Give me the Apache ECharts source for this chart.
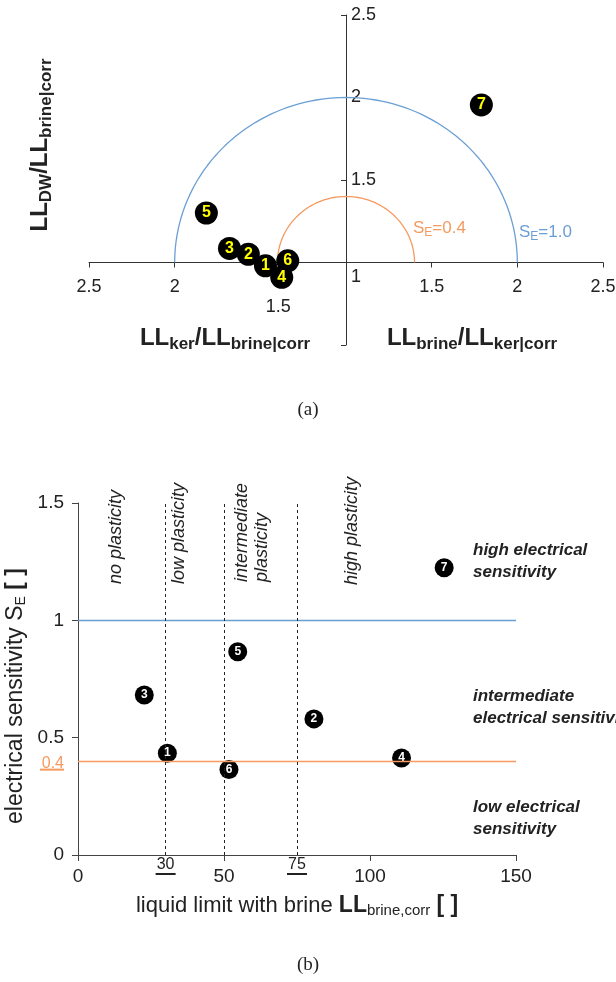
<!DOCTYPE html>
<html>
<head>
<meta charset="utf-8">
<script src="https://cdn.jsdelivr.net/npm/echarts@6/dist/echarts.min.js"></script>
<style>
  html, body { margin: 0; padding: 0; background: #fff; }
  #main { width: 616px; height: 982px; }
</style>
</head>
<body>
<div id="main"></div>
<script>
  // sample numbers
  const samples = ['1', '2', '3', '4', '5', '6', '7'];
  // (a) horizontal: distance from ratio 1 (left = LL_ker/LL_brine, right = LL_brine/LL_ker)
  const ratioX = [-0.47, -0.57, -0.68, -0.375, -0.815, -0.34, 0.79];
  // (a) vertical: LL_DW/LL_brine minus 1
  const ratioY = [-0.02, 0.05, 0.085, -0.09, 0.3, 0.01, 0.955];
  // (b) liquid limit with brine and electrical sensitivity
  const llBrine = [30.6, 80.8, 22.7, 110.8, 54.7, 51.7, 125.4];
  const sensitivity = [0.434, 0.58, 0.682, 0.413, 0.866, 0.364, 1.224];
  // plasticity borders and S_E levels
  const plasticityBorders = [30, 50, 75];
  const seLevels = [0.4, 1.0];

  const BLUE = '#6a9fd4';
  const ORANGE = '#f59a60';
  const INK = '#222';

  // half circle of constant S_E (the boundary itself, not data)
  function halfCircle(r) {
    const pts = [];
    for (let a = 0; a <= 180; a += 2) {
      const t = a * Math.PI / 180;
      pts.push([r * Math.cos(t), r * Math.sin(t)]);
    }
    return pts;
  }

  const nameRich = {
    m: { fontSize: 24, fontWeight: 'bold', fill: INK },
    s: { fontSize: 17, fontWeight: 'bold', fill: INK, padding: [12, 0, 0, 0] }
  };
  const underRich = {
    t: { fontSize: 16, color: INK, lineHeight: 17 },
    u: { width: 20, height: 2, backgroundColor: INK }
  };

  function gText(x, y, text, extra) {
    return Object.assign({
      type: 'text', x: x, y: y, silent: true,
      style: Object.assign({
        text: text, fill: INK, fontSize: 18,
        fontFamily: 'Liberation Sans',
        align: 'left', verticalAlign: 'middle',
        textAlign: 'left', textVerticalAlign: 'middle'
      }, extra && extra.style)
    }, extra && extra.el);
  }

  const myChart = echarts.init(document.getElementById('main'));

  // grid (a): zero of both axes sits inside the grid
  const gA = { left: 89, top: 15, width: 514, height: 330 };
  const offX = -(gA.height * 0.5 / 2);   // x axis at ratio 1 (y = 0 of [-0.5, 1.5])
  const offY = -(gA.width / 2);          // y axis at ratio 1 (x = 0 of [-1.5, 1.5])

  const option = {
    animation: false,
    backgroundColor: '#fff',
    textStyle: { fontFamily: 'Liberation Sans' },
    grid: [
      Object.assign({ outerBoundsMode: 'none' }, gA),
      { left: 78, top: 503, width: 438, height: 352, outerBoundsMode: 'none' }
    ],
    xAxis: [
      {
        gridIndex: 0, type: 'value', min: -1.5, max: 1.5, interval: 0.5,
        position: 'bottom', offset: offX,
        axisLine: { onZero: false, lineStyle: { color: '#333' } },
        axisTick: { length: 5, lineStyle: { color: '#333' } },
        splitLine: { show: false },
        axisLabel: {
          margin: 6, fontSize: 18, color: INK,
          formatter: function (v) {
            if (Math.abs(v) < 1e-9) return '{c|1}';
            if (Math.abs(v + 0.5) < 1e-9) return '{low|1.5}';
            return '{n|' + (1 + Math.abs(v)) + '}';
          },
          rich: {
            c: { fontSize: 18, color: INK, padding: [0, 0, 0, 20] },
            n: { fontSize: 18, color: INK, padding: [10, 0, 0, 0] },
            low: { fontSize: 18, color: INK, padding: [30, 0, 0, 36] }
          }
        }
      },
      {
        gridIndex: 1, type: 'value', min: 0, max: 150, interval: 50,
        axisLine: { onZero: false, lineStyle: { color: '#444' } },
        axisTick: { length: 6, lineStyle: { color: '#444' } },
        splitLine: { show: false },
        axisLabel: { margin: 12, fontSize: 19, color: INK },
        name: 'liquid limit with brine {b|LL}{s|brine,corr} {b|[ ]}',
        nameLocation: 'middle', nameGap: 38,
        nameTextStyle: {
          fontSize: 22, color: INK,
          rich: {
            b: { fontSize: 23, fontWeight: 'bold', color: INK },
            s: { fontSize: 15, color: INK, padding: [10, 0, 0, 0] }
          }
        }
      }
    ],
    yAxis: [
      {
        gridIndex: 0, type: 'value', min: -0.5, max: 1.5, interval: 0.5,
        position: 'right', offset: offY,
        axisLine: { onZero: false, lineStyle: { color: '#333' } },
        axisTick: { inside: true, length: 5, lineStyle: { color: '#333' } },
        splitLine: { show: false },
        axisLabel: {
          margin: 5, fontSize: 18, color: INK,
          formatter: function (v) { return v > 0.01 ? String(1 + v) : ''; }
        }
      },
      {
        gridIndex: 1, type: 'value', min: 0, max: 1.5, interval: 0.5,
        axisLine: { onZero: false, lineStyle: { color: '#444' } },
        axisTick: { length: 6, lineStyle: { color: '#444' } },
        splitLine: { show: false },
        axisLabel: { margin: 14, fontSize: 19, color: INK }
      }
    ],
    series: [
      {
        name: 'SE=1.0', type: 'line', xAxisIndex: 0, yAxisIndex: 0,
        data: halfCircle(seLevels[1]), showSymbol: false, silent: true,
        lineStyle: { color: BLUE, width: 1.3 }, z: 1
      },
      {
        name: 'SE=0.4', type: 'line', xAxisIndex: 0, yAxisIndex: 0,
        data: halfCircle(seLevels[0]), showSymbol: false, silent: true,
        lineStyle: { color: ORANGE, width: 1.3 }, z: 1
      },
      {
        name: 'ratios', type: 'scatter', xAxisIndex: 0, yAxisIndex: 0,
        data: samples.map((s, i) => ({ name: s, value: [ratioX[i], ratioY[i]] })),
        symbolSize: 23,
        itemStyle: { color: '#000', opacity: 1 },
        label: {
          show: true, position: 'inside', formatter: '{b}',
          color: '#ffff00', fontSize: 16, fontWeight: 'bold'
        },
        z: 3
      },
      {
        name: 'sensitivity', type: 'scatter', xAxisIndex: 1, yAxisIndex: 1,
        data: samples.map((s, i) => ({ name: s, value: [llBrine[i], sensitivity[i]] })),
        symbolSize: 19,
        itemStyle: { color: '#000', opacity: 1 },
        label: {
          show: true, position: 'inside', formatter: '{b}',
          color: '#fff', fontSize: 12, fontWeight: 'bold'
        },
        z: 3,
        markLine: {
          silent: true, symbol: ['none', 'none'], animation: false,
          data: [
            { yAxis: seLevels[1], lineStyle: { color: BLUE, type: 'solid', width: 1.3 }, label: { show: false } },
            {
              yAxis: seLevels[0], lineStyle: { color: ORANGE, type: 'solid', width: 1.3 },
              label: {
                show: true, position: 'start', distance: 14,
                formatter: '{t|0.4}\n{u|}',
                rich: {
                  t: { fontSize: 16, color: ORANGE, lineHeight: 17, padding: [6, 0, 0, 0] },
                  u: { width: 24, height: 2, backgroundColor: ORANGE }
                }
              }
            }
          ].concat(plasticityBorders.map((b) => ({
            xAxis: b,
            lineStyle: { color: INK, type: [3, 3], width: 1 },
            label: b === 50 ? { show: false } : {
              show: true, position: 'start', distance: 1,
              formatter: '{t|' + b + '}\n{u|}', rich: underRich
            }
          })))
        }
      }
    ],
    graphic: [
      // (a) axis names
      gText(40, 145, '{m|LL}{s|DW}{m|/LL}{s|brine|corr}', {
        el: { rotation: Math.PI / 2 },
        style: { align: 'center', textAlign: 'center', rich: nameRich }
      }),
      gText(225, 338, '{m|LL}{s|ker}{m|/LL}{s|brine|corr}', {
        style: { align: 'center', textAlign: 'center', rich: nameRich }
      }),
      gText(472, 338, '{m|LL}{s|brine}{m|/LL}{s|ker|corr}', {
        style: { align: 'center', textAlign: 'center', rich: nameRich }
      }),
      gText(413, 228, '{a|S}{b|E}{a|=0.4}', {
        style: { rich: {
          a: { fontSize: 17, fill: ORANGE },
          b: { fontSize: 12, fill: ORANGE, padding: [10, 0, 0, 0] }
        } }
      }),
      gText(519, 232, '{a|S}{b|E}{a|=1.0}', {
        style: { rich: {
          a: { fontSize: 17, fill: BLUE },
          b: { fontSize: 12, fill: BLUE, padding: [10, 0, 0, 0] }
        } }
      }),
      // (b) y axis name
      gText(16, 696, 'electrical sensitivity S{s|E} {b|[ ]}', {
        el: { rotation: Math.PI / 2 },
        style: {
          align: 'center', textAlign: 'center', fontSize: 23,
          rich: {
            s: { fontSize: 14, fill: INK, padding: [10, 0, 0, 0] },
            b: { fontSize: 23, fontWeight: 'bold', fill: INK }
          }
        }
      }),
      // captions
      gText(308, 410, '(a)', { style: { align: 'center', textAlign: 'center', fontFamily: 'Liberation Serif', fontSize: 19 } }),
      gText(308, 965, '(b)', { style: { align: 'center', textAlign: 'center', fontFamily: 'Liberation Serif', fontSize: 19 } }),
      // (b) plasticity classes
      gText(116, 584, 'no plasticity', { el: { rotation: Math.PI / 2 }, style: { fontStyle: 'italic' } }),
      gText(179, 584, 'low plasticity', { el: { rotation: Math.PI / 2 }, style: { fontStyle: 'italic' } }),
      gText(252, 582, 'intermediate\nplasticity', { el: { rotation: Math.PI / 2 }, style: { fontStyle: 'italic', lineHeight: 20 } }),
      gText(352, 585, 'high plasticity', { el: { rotation: Math.PI / 2 }, style: { fontStyle: 'italic' } }),
      // (b) sensitivity classes
      gText(473, 561, 'high electrical\nsensitivity', { style: { fontStyle: 'italic', fontWeight: 'bold', fontSize: 17, lineHeight: 22 } }),
      gText(473, 707, 'intermediate\nelectrical sensitivity', { style: { fontStyle: 'italic', fontWeight: 'bold', fontSize: 17, lineHeight: 22 } }),
      gText(473, 818, 'low electrical\nsensitivity', { style: { fontStyle: 'italic', fontWeight: 'bold', fontSize: 17, lineHeight: 22 } })
    ]
  };

  myChart.setOption(option);
</script>
</body>
</html>
